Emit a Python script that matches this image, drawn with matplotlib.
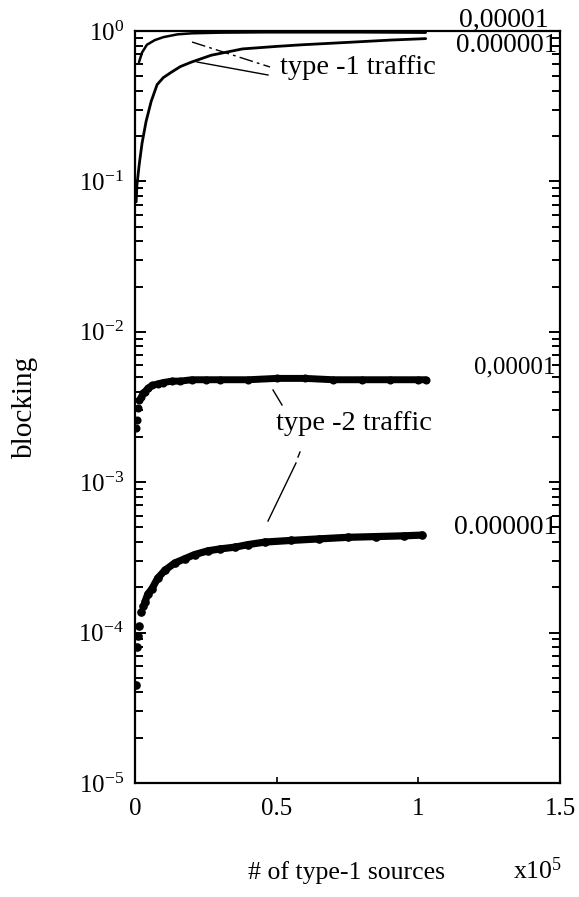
import numpy as np
import matplotlib
matplotlib.use("Agg")
import matplotlib.pyplot as plt
from matplotlib.lines import Line2D
from matplotlib.ticker import LogLocator, LogFormatterMathtext, FixedLocator

plt.rcParams['font.family'] = ['Liberation Serif', 'DejaVu Serif']
plt.rcParams['mathtext.fontset'] = 'custom'
plt.rcParams['mathtext.rm'] = 'Liberation Serif'
plt.rcParams['mathtext.it'] = 'Liberation Serif:italic'
plt.rcParams['mathtext.bf'] = 'Liberation Serif:bold'

# number of type-1 sources (x 10^5) and blocking probability
t1_hi_x = [0.014, 0.025, 0.042, 0.07, 0.10, 0.15, 0.20, 0.30, 0.45, 0.60, 0.80, 1.026]
t1_hi_y = [0.62, 0.72, 0.81, 0.87, 0.91, 0.95, 0.965, 0.975, 0.98, 0.98, 0.98, 0.975]

t1_lo_x = [0.004, 0.007, 0.015, 0.025, 0.039, 0.057, 0.078, 0.10, 0.127, 0.16,
           0.198, 0.269, 0.379, 0.50, 0.59, 0.75, 0.90, 1.026]
t1_lo_y = [0.073, 0.095, 0.13, 0.18, 0.25, 0.34, 0.44, 0.49, 0.53, 0.58,
           0.62, 0.69, 0.76, 0.79, 0.81, 0.84, 0.87, 0.89]

t2_hi_x = [0.002, 0.006, 0.010, 0.015, 0.020, 0.027, 0.035, 0.045, 0.06, 0.08,
           0.10, 0.13, 0.16, 0.20, 0.25, 0.30, 0.40, 0.50, 0.60, 0.70, 0.80,
           0.90, 1.00, 1.026]
t2_hi_y = [0.0023, 0.0026, 0.0031, 0.0035, 0.0037, 0.0039, 0.0040, 0.0042, 0.0044,
           0.0045, 0.0046, 0.0047, 0.0047, 0.0048, 0.0048, 0.0048, 0.0048, 0.0049,
           0.0049, 0.0048, 0.0048, 0.0048, 0.0048, 0.0048]

t2_lo_x = [0.003, 0.006, 0.010, 0.014, 0.021, 0.028, 0.035, 0.045, 0.06, 0.08,
           0.106, 0.14, 0.176, 0.21, 0.258, 0.30, 0.353, 0.40, 0.459, 0.55,
           0.65, 0.75, 0.85, 0.95, 1.013]
t2_lo_y = [4.5e-5, 8e-5, 9.5e-5, 1.1e-4, 1.38e-4, 1.5e-4, 1.6e-4, 1.8e-4, 1.96e-4,
           2.3e-4, 2.6e-4, 2.9e-4, 3.1e-4, 3.3e-4, 3.5e-4, 3.6e-4, 3.7e-4, 3.85e-4,
           4.0e-4, 4.1e-4, 4.2e-4, 4.3e-4, 4.35e-4, 4.4e-4, 4.45e-4]

curve_labels = ["0,00001", "0.000001", "0,00001", "0.000001"]
x_ticks = [0, 0.5, 1, 1.5]
x_tick_labels = ["0", "0.5", "1", "1.5"]

fig = plt.figure(figsize=(5.79, 8.97), dpi=100)
W, H = 579, 897
L, R, T, B = 135, 560, 31, 783
ax = fig.add_axes([L / W, 1 - B / H, (R - L) / W, (B - T) / H])

ax.set_yscale('log')
ax.set_xlim(0, 1.5)
ax.set_ylim(1e-5, 1)

# type-1 traffic: solid curves
ax.plot(t1_hi_x, t1_hi_y, color='black', lw=1.8, solid_capstyle='round')
ax.plot(t1_lo_x, t1_lo_y, color='black', lw=2.0, solid_capstyle='round')

# type-2 traffic: dense dots
k = 5
ax.plot(t2_hi_x[k:], t2_hi_y[k:], color='black', lw=5.0, solid_capstyle='round')
ax.plot(t2_hi_x, t2_hi_y, 'o', color='black', ms=4.8)
k2 = 6
ax.plot(t2_lo_x[k2:], t2_lo_y[k2:], color='black', lw=5.2, solid_capstyle='round')
ax.plot(t2_lo_x, t2_lo_y, 'o', color='black', ms=5.2)

# axes styling
for s in ax.spines.values():
    s.set_linewidth(1.6)
ax.yaxis.set_major_locator(LogLocator(base=10, numticks=10))
ax.yaxis.set_minor_locator(LogLocator(base=10, subs=np.arange(2, 10), numticks=10))
ax.yaxis.set_major_formatter(LogFormatterMathtext())
ax.tick_params(axis='y', which='major', direction='in', length=8, width=1.4,
               left=True, right=True, labelsize=18, pad=8)
ax.tick_params(axis='y', which='minor', direction='in', length=6, width=1.4,
               left=True, right=True)
ax.xaxis.set_major_locator(FixedLocator(x_ticks))
ax.set_xticklabels(x_tick_labels)
ax.tick_params(axis='x', which='major', direction='in', length=4, width=1.2,
               top=False, labelsize=18, pad=11)
ax.tick_params(axis='x', which='minor', bottom=False, top=False)


def px(xp, yp):
    """Figure pixel measured from the top-left corner -> figure fraction."""
    return xp / W, 1 - yp / H


fig.text(*px(25, 407), 'blocking', fontsize=21, rotation=90,
         ha='center', va='center')
fig.text(*px(347, 873), '# of type-1 sources', fontsize=18.5,
         ha='center', va='center')
fig.text(*px(538, 871), r'$\mathregular{x10^5}$', fontsize=18.5,
         ha='center', va='center')

# curve labels on the right
label_pos = [(549, 20), (557, 45), (555, 367), (557, 527)]
label_size = [20, 19.5, 18, 20]
for lab, (xp, yp), fs in zip(curve_labels, label_pos, label_size):
    fig.text(*px(xp, yp), lab, fontsize=fs, ha='right', va='center')

fig.text(*px(280, 67), 'type -1 traffic', fontsize=20.5, ha='left', va='center')
fig.text(*px(276, 423), 'type -2 traffic', fontsize=20.5, ha='left', va='center')


def leader(p0, p1, **kw):
    a, b = px(*p0), px(*p1)
    fig.add_artist(Line2D([a[0], b[0]], [a[1], b[1]], transform=fig.transFigure,
                          color='black', lw=1.0, **kw))


leader((197, 62), (268, 75))
leader((192, 42), (270, 67), dashes=(10, 3, 2, 3))
leader((273, 390), (282, 405))
leader((300, 452), (298, 457))
leader((296, 463), (268, 521))

fig.savefig('out.png', dpi=100)
